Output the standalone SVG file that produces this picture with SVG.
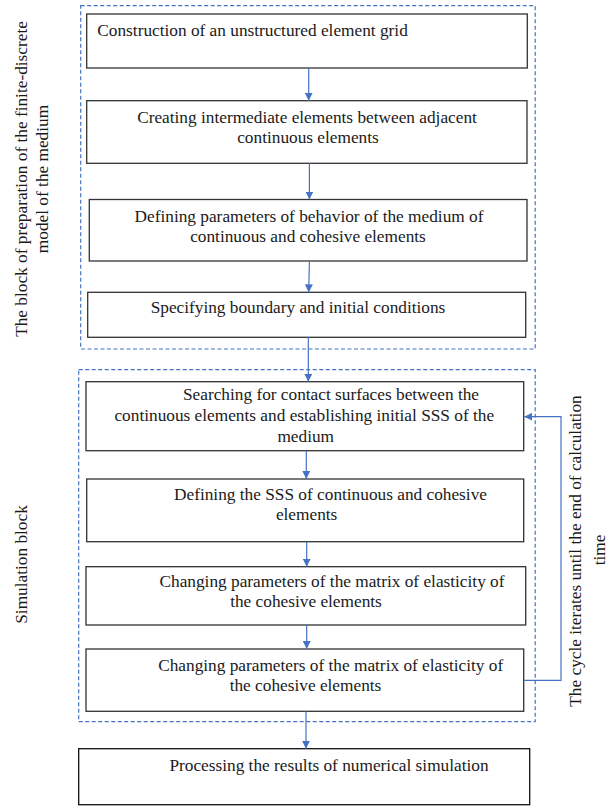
<svg xmlns="http://www.w3.org/2000/svg" width="611" height="806" viewBox="0 0 611 806">
<style>
.t{font-family:"Liberation Serif","Times New Roman",serif;font-size:17.3px;fill:#1a1a1a}
.m{text-anchor:middle}
.box{fill:#fff;stroke:#333;stroke-width:1.3}
.grp{fill:none;stroke:#4472C4;stroke-width:1.2;stroke-dasharray:4 2.5}
.c{fill:none;stroke:#4472C4;stroke-width:1.2}
</style>
<defs>
<marker id="ah" markerWidth="8" markerHeight="8" refX="8" refY="4" orient="auto" markerUnits="userSpaceOnUse">
<path d="M0,0 L8,4 L0,8 z" fill="#4472C4"/>
</marker>
</defs>
<rect width="611" height="806" fill="#fff"/>

<g id="group-prep">
<rect class="grp" x="80.7" y="5.7" width="454.5" height="343.3"/>
<text class="t m" transform="translate(26.7,179) rotate(-90)">The block of preparation of the finite-discrete</text>
<text class="t m" transform="translate(48.3,179) rotate(-90)">model of the medium</text>
</g>
<g id="group-sim">
<rect class="grp" x="78.7" y="369.7" width="456.5" height="352"/>
<text class="t m" transform="translate(26.7,564.5) rotate(-90)">Simulation block</text>
</g>
<g id="label-cycle">
<text class="t m" transform="translate(581,551) rotate(-90)">The cycle iterates until the end of calculation</text>
<text class="t m" transform="translate(605.3,550) rotate(-90)">time</text>
</g>

<g id="n1">
<rect class="box" x="86.7" y="14" width="440.6" height="54"/>
<text class="t" x="97.3" y="36">Construction of an unstructured element grid</text>
</g>
<g id="n2">
<rect class="box" x="86.7" y="100.7" width="440.3" height="62.6"/>
<text class="t m" x="307" y="123">Creating intermediate elements between adjacent</text>
<text class="t m" x="308" y="143">continuous elements</text>
</g>
<g id="n3">
<rect class="box" x="89.3" y="199.5" width="437.7" height="61.5"/>
<text class="t m" x="309" y="222">Defining parameters of behavior of the medium of</text>
<text class="t m" x="308" y="242">continuous and cohesive elements</text>
</g>
<g id="n4">
<rect class="box" x="87.7" y="292.3" width="438" height="45"/>
<text class="t m" x="298" y="313">Specifying boundary and initial conditions</text>
</g>
<g id="n5">
<rect class="box" x="86" y="381.7" width="437.7" height="69"/>
<text class="t m" x="331" y="400">Searching for contact surfaces between the</text>
<text class="t m" x="304.3" y="421">continuous elements and establishing initial SSS of the</text>
<text class="t m" x="305.7" y="442">medium</text>
</g>
<g id="n6">
<rect class="box" x="86.7" y="479" width="437" height="62.7"/>
<text class="t m" x="330.5" y="500">Defining the SSS of continuous and cohesive</text>
<text class="t m" x="306.6" y="520">elements</text>
</g>
<g id="n7">
<rect class="box" x="86" y="566.7" width="439.7" height="58.3"/>
<text class="t m" x="332" y="587">Changing parameters of the matrix of elasticity of</text>
<text class="t m" x="306" y="607">the cohesive elements</text>
</g>
<g id="n8">
<rect class="box" x="86" y="649" width="437.7" height="62.3"/>
<text class="t m" x="330.7" y="671">Changing parameters of the matrix of elasticity of</text>
<text class="t m" x="305.5" y="691">the cohesive elements</text>
</g>
<g id="n9">
<rect class="box" x="78.7" y="748.7" width="451" height="56" style="stroke:#111"/>
<text class="t m" x="329" y="771">Processing the results of numerical simulation</text>
</g>

<g id="connectors">
<line class="c" x1="308.7" y1="68" x2="308.7" y2="100.7" marker-end="url(#ah)"/>
<line class="c" x1="309.4" y1="163.3" x2="309.4" y2="199.5" marker-end="url(#ah)"/>
<line class="c" x1="309.4" y1="261" x2="308.7" y2="292.3" marker-end="url(#ah)"/>
<line class="c" x1="308.3" y1="337.3" x2="308.3" y2="381.7" marker-end="url(#ah)"/>
<line class="c" x1="306.3" y1="450.7" x2="306.3" y2="479" marker-end="url(#ah)"/>
<line class="c" x1="306.7" y1="541.7" x2="306.7" y2="566.7" marker-end="url(#ah)"/>
<line class="c" x1="306.7" y1="625" x2="306.7" y2="649" marker-end="url(#ah)"/>
<line class="c" x1="306" y1="711.3" x2="306" y2="748.7" marker-end="url(#ah)"/>
<polyline class="c" points="523.7,680.3 561,680.3 561,416.7 524.3,416.7" marker-end="url(#ah)"/>
</g>
</svg>
